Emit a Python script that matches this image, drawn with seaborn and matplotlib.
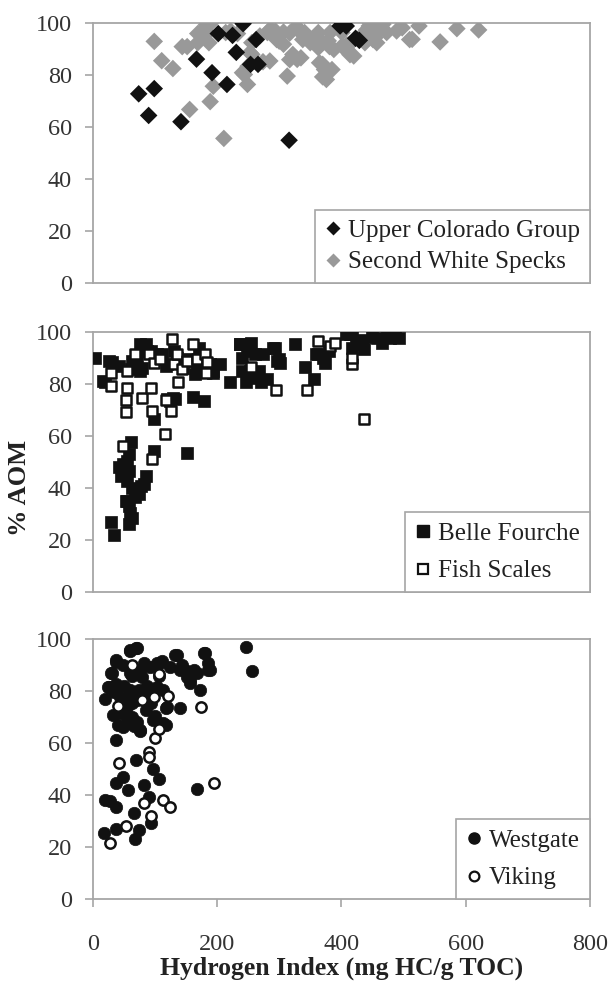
import matplotlib
matplotlib.use("Agg")
import matplotlib.pyplot as plt
import seaborn as sns
import pandas as pd
from matplotlib.lines import Line2D

# ---------------- data ----------------
ucg_hi = [74, 90, 99, 142, 167, 192, 202, 216, 225, 231, 242, 254, 263, 266, 316, 398, 408, 423, 429]
ucg_aom = [72.7, 64.4, 74.7, 62, 86, 80.8, 95.8, 76.3, 95.1, 88.6, 99.6, 84, 93.5, 84, 54.9, 98.7, 98.7, 94, 93.2]

sws_hi = [99, 111, 129, 144, 152, 156, 169, 179, 189, 189, 194, 187, 211, 214, 222, 233, 244, 249, 250, 256,
          285, 287, 294, 300, 307, 313, 322, 329, 335, 332, 341, 350, 357, 363, 370, 373, 376, 385, 379, 388,
          382, 413, 420, 432, 445, 451, 457, 467, 473, 489, 498, 514, 525, 559, 586, 621,
          294, 269, 401, 401, 363, 438, 454, 307, 281, 169, 181, 256,
          172, 183, 285, 296, 317, 328, 338, 360, 370, 381, 441, 446, 451, 462, 317, 365, 370, 274, 253, 241,
          414, 510, 409]
sws_aom = [92.8, 85.4, 82.4, 90.8, 90.8, 66.7, 95.8, 94.9, 99.6, 69.7, 75.6, 92.3, 55.6, 96.2, 96.8, 95.8, 80.1, 76.3, 83.3, 87.8,
           85.3, 97.4, 94.9, 92.9, 96.4, 79.5, 87.8, 85.9, 86.5, 96.8, 96.2, 92.3, 93.6, 90.4, 84, 82, 78.2, 82, 93, 89.7,
           96.2, 91.7, 87.2, 94.9, 98.7, 96.2, 92.3, 99.4, 96.2, 96.8, 98, 93.6, 98.7, 92.6, 97.7, 97.2,
           96.8, 94.9, 96.2, 91, 96.2, 92.3, 94.2, 91.7, 96.2, 92.3, 97, 92.3,
           96, 99.2, 97.3, 93.5, 96, 98.5, 93.5, 94.6, 92.3, 90.8, 97.3, 100, 93.5, 97.3, 85.8, 84.6, 79.2, 85, 88.5, 80.8,
           87.7, 93.5, 91.5]

bf_hi = [3, 19, 31, 43, 30, 35, 43, 46, 55, 58, 61, 58, 54, 58, 58, 64, 68, 74, 77, 83, 86, 99, 99,
         61, 71, 77, 86, 93, 80, 102, 111, 118, 124, 133, 130, 143, 152, 155, 161, 165, 171, 179, 180, 193,
         205, 221, 237, 240, 246, 255, 261, 268, 271, 280, 293, 299, 302, 325, 342, 356, 362, 374, 380,
         408, 417, 424, 436, 449, 465, 474, 487, 493,
         76, 87, 103, 64, 76, 27, 16, 119, 135, 145, 161, 167, 188, 193, 119, 129, 237, 241, 248, 253, 264,
         274, 290, 296, 360, 370, 414, 418, 434, 457, 478, 48, 55, 64, 55, 60]
bf_aom = [89.7, 80.8, 88.4, 86.8, 27.1, 22, 47.9, 44.7, 50.4, 46.6, 57.5, 53, 35.1, 33.2, 26.2, 28.7, 36.4, 37.7, 40.9, 41.5, 44.7, 54.3, 66.4,
          85.6, 88.8, 92.6, 95.1, 92.6, 86.2, 89.4, 91.3, 86.8, 73.4, 74.1, 92.6, 88.8, 53.6, 89.4, 75, 83.7, 93.9, 73.4, 86.2, 84.3,
          87.5, 80.7, 95.1, 84.9, 80.5, 95.8, 91.4, 84.9, 80.5, 81.7, 93.9, 89.4, 88.1, 95.1, 86.5, 81.7, 91.3, 88.1, 92.6,
          99.2, 99.6, 95.1, 93.2, 98, 95.8, 98.3, 98.3, 97.7,
          95.4, 92.7, 91.6, 88.9, 85, 88.9, 81.2, 87.7, 90, 86.2, 88.9, 85, 87.7, 85, 74.3, 74.7, 95.4, 90, 92.7, 85, 82.4,
          91.6, 93.9, 88.9, 91.6, 90, 99.2, 93.9, 96.6, 97.7, 97.7, 49.4, 42.9, 40.2, 35.2, 30.3]

fs_hi = [30, 29, 55, 55, 54, 54, 49, 68, 80, 90, 93, 96, 95, 99, 108, 117, 118, 126, 127, 130, 135, 137, 144,
         152, 162, 168, 180, 182, 184, 255, 295, 345, 363, 382, 390, 418, 418, 437]
fs_aom = [84.3, 79.2, 84.9, 78.5, 73.7, 69, 56.2, 91.3, 74.7, 91.6, 78.5, 69.6, 51.1, 88.1, 89.4, 60.7, 73.8, 69.6, 97.1, 87.5, 91.6, 80.7, 85.6,
          88.8, 95.1, 89.4, 91.3, 84.3, 88.4, 86.5, 77.7, 77.5, 96.4, 94.5, 95.5, 87.7, 90, 66.4]

wg_hi = [19, 25, 37, 31, 33, 37, 41, 38, 49, 56, 19, 28, 37, 18, 37, 66, 69, 68, 75, 82, 91, 94, 97, 107,
         60, 70, 63, 56, 53, 72, 76, 82, 88, 94, 100, 103, 107, 112, 113, 118, 118, 69, 75, 50, 44,
         132, 141, 143, 151, 157, 163, 173, 179, 185, 188, 168, 246, 256, 63, 85, 38, 66,
         60, 72, 38, 48, 30, 27, 35, 60, 76, 92, 108, 60, 71, 87, 103, 119, 64, 60, 48, 76, 97, 113,
         135, 140, 151, 156, 167, 180, 185, 124, 80, 55, 43]
wg_aom = [76.8, 81.4, 91.7, 86.8, 70.8, 61.2, 67, 44.8, 47.1, 42, 38.2, 37.9, 35.6, 25.6, 26.9, 33, 53.5, 23, 26.6, 43.9, 39.4, 29.2, 49.9, 46.1,
          95.1, 96.4, 85.5, 77.8, 70.2, 68.2, 64.4, 90.7, 81.7, 75.3, 70.2, 90.7, 85.5, 91.3, 80.4, 73.4, 67, 86.8, 80.4, 81.7, 77.8,
          93.9, 73.4, 90, 87.5, 84.3, 88.1, 80.4, 94.5, 90.7, 88.1, 42.5, 96.7, 87.7, 75.3, 72.7, 82.7, 66.3,
          95.8, 96.5, 91, 90, 87, 81.5, 79.6, 87, 88, 89, 90.7, 80.4, 76.5, 79.2, 81.5, 73.8, 70, 67.7, 66.2, 65, 68.8, 67.7,
          93.8, 88, 85.4, 83, 87, 94.6, 88, 89, 85.4, 73.8, 71.5]

vk_hi = [28, 40, 43, 53, 63, 80, 83, 91, 91, 93, 99, 100, 106, 107, 113, 121, 124, 174, 195]
vk_aom = [21.5, 74.3, 52.2, 28.2, 90, 76.3, 37.1, 56.7, 54.5, 31.8, 77.5, 61.8, 65.3, 86.6, 38.2, 78.1, 35.3, 73.6, 44.8]

x_ticks = [0, 200, 400, 600, 800]
y_ticks = [0, 20, 40, 60, 80, 100]

# ---------------- style ----------------
sns.set_style("white")
plt.rcParams["font.family"] = ["Liberation Serif", "DejaVu Serif"]

fig = plt.figure(figsize=(6.10, 9.84), dpi=100)
L, W = 0.152, 0.815
axes = [fig.add_axes([L, 0.712, W, 0.265]),
        fig.add_axes([L, 0.398, W, 0.265]),
        fig.add_axes([L, 0.086, W, 0.265])]

GRAY_SPINE = "#a6a6a6"
TICK_FS = 17.5
LEG_FS = 18


def style(ax, show_x):
    ax.set_xlim(0, 800)
    ax.set_ylim(0, 100)
    ax.set_yticks(y_ticks)
    ax.set_xticks(x_ticks)
    for s in ax.spines.values():
        s.set_color(GRAY_SPINE)
        s.set_linewidth(1.3)
    ax.tick_params(axis="y", which="both", direction="out", length=6, width=1.2,
                   color=GRAY_SPINE, labelsize=TICK_FS, left=True, pad=9, labelcolor="#333333")
    if show_x:
        ax.tick_params(axis="x", direction="out", length=6, width=1.2,
                       color=GRAY_SPINE, labelsize=TICK_FS, bottom=True, pad=19, labelcolor="#333333")
    else:
        ax.tick_params(axis="x", bottom=False, labelbottom=False)
    ax.set_xlabel("")
    ax.set_ylabel("")


def legend(ax, handles, labels, spacing):
    leg = ax.legend(handles, labels, loc="lower right", borderaxespad=0,
                    fontsize=LEG_FS, frameon=True, fancybox=False, framealpha=1,
                    handlelength=0.6, handletextpad=0.3, labelspacing=spacing,
                    borderpad=0.4, labelcolor="#222222")
    leg.get_frame().set_edgecolor(GRAY_SPINE)
    leg.get_frame().set_linewidth(1.2)


# ---- top panel ----
ax = axes[0]
d_sws = pd.DataFrame({"HI": sws_hi, "AOM": sws_aom})
d_ucg = pd.DataFrame({"HI": ucg_hi, "AOM": ucg_aom})
sns.scatterplot(data=d_sws, x="HI", y="AOM", ax=ax, marker="D", s=80, color="#999999",
                edgecolor="none", linewidth=0, zorder=3)
sns.scatterplot(data=d_ucg, x="HI", y="AOM", ax=ax, marker="D", s=80, color="#111111",
                edgecolor="none", linewidth=0, zorder=4)
style(ax, False)
h = [Line2D([], [], ls="", marker="D", ms=7, color="#111111", mec="none"),
     Line2D([], [], ls="", marker="D", ms=7, color="#999999", mec="none")]
legend(ax, h, ["Upper Colorado Group", "Second White Specks"], 0.35)

# ---- middle panel ----
ax = axes[1]
d_bf = pd.DataFrame({"HI": bf_hi, "AOM": bf_aom})
d_fs = pd.DataFrame({"HI": fs_hi, "AOM": fs_aom})
sns.scatterplot(data=d_bf, x="HI", y="AOM", ax=ax, marker="s", s=75, color="#111111",
                edgecolor="#111111", linewidth=0.5, zorder=3)
sns.scatterplot(data=d_fs, x="HI", y="AOM", ax=ax, marker="s", s=52, color="white",
                edgecolor="#111111", linewidth=1.8, zorder=4)
style(ax, False)
ax.set_ylabel("% AOM", fontsize=19, fontweight="bold", color="#222222")
ax.yaxis.set_label_coords(-0.125, 0.40)
h = [Line2D([], [], ls="", marker="s", ms=8, color="#111111", mec="#111111"),
     Line2D([], [], ls="", marker="s", ms=7, mfc="white", mec="#111111", mew=1.6)]
legend(ax, h, ["Belle Fourche", "Fish Scales"], 0.6)

# ---- bottom panel ----
ax = axes[2]
d_wg = pd.DataFrame({"HI": wg_hi, "AOM": wg_aom})
d_vk = pd.DataFrame({"HI": vk_hi, "AOM": vk_aom})
sns.scatterplot(data=d_wg, x="HI", y="AOM", ax=ax, marker="o", s=80, color="#111111",
                edgecolor="#111111", linewidth=0.5, zorder=3)
sns.scatterplot(data=d_vk, x="HI", y="AOM", ax=ax, marker="o", s=55, color="white",
                edgecolor="#111111", linewidth=1.8, zorder=4)
style(ax, True)
ax.set_xlabel("Hydrogen Index (mg HC/g TOC)", fontsize=18.5, fontweight="bold",
              labelpad=1, color="#222222")
h = [Line2D([], [], ls="", marker="o", ms=8, color="#111111", mec="#111111"),
     Line2D([], [], ls="", marker="o", ms=7, mfc="white", mec="#111111", mew=1.6)]
legend(ax, h, ["Westgate", "Viking"], 0.6)

fig.savefig("out.png", dpi=100)
